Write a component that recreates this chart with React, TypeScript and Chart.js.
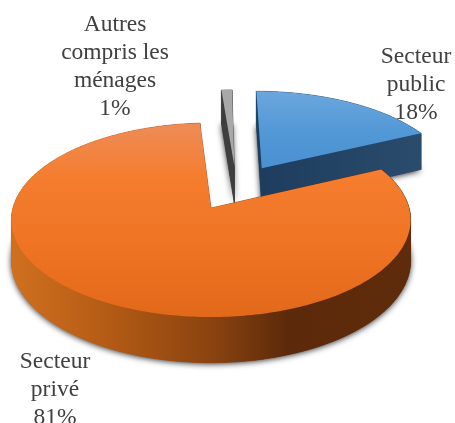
import React, { useEffect, useRef } from "react";
import { Chart, registerables } from "chart.js";

Chart.register(...registerables);

const categories = ["Secteur public", "Secteur privé", "Autres compris les ménages"];
const shares = [18, 81, 1];
const labelLines = [
  ["Secteur", "public", "18%"],
  ["Secteur", "privé", "81%"],
  ["Autres", "compris les", "ménages", "1%"],
];
const labelAnchors = [
  { x: 416, y: 57 },
  { x: 55, y: 362 },
  { x: 115, y: 25 },
];
const sliceColors = ["#5198d6", "#f47b2a", "#a8a8a8"];
const explode = [
  { x: 0.27, b: 0.44 },
  { x: 0, b: 0 },
  { x: 0.125, b: 0.46 },
];
const paintOrder = [2, 0, 1];

const CX = 211, CY = 208, RX = 198, RY = 95.5, PERSP = 0.124, DEPTH = 40;

function project(x: number, back: number, lift: number) {
  const s = 1 / (1 + PERSP * back);
  return { x: CX + RX * x * s, y: CY - RY * back * s + DEPTH * s * lift };
}

function outline(start: number, end: number, off: { x: number; b: number }, lift: number) {
  const pts = [project(off.x, off.b, lift)];
  const n = Math.max(4, Math.ceil((end - start) / (Math.PI / 180)));
  for (let i = 0; i <= n; i++) {
    const a = start + ((end - start) * i) / n + Math.PI / 2;
    pts.push(project(off.x + Math.sin(a), off.b + Math.cos(a), lift));
  }
  return pts;
}

function trace(ctx: CanvasRenderingContext2D, pts: { x: number; y: number }[]) {
  ctx.beginPath();
  pts.forEach((p, i) => (i ? ctx.lineTo(p.x, p.y) : ctx.moveTo(p.x, p.y)));
  ctx.closePath();
}

function topFill(ctx: CanvasRenderingContext2D, i: number) {
  if (i === 0) {
    const g = ctx.createLinearGradient(0, 92, 0, 175);
    g.addColorStop(0, "#6ba6dd");
    g.addColorStop(0.5, "#5198d6");
    g.addColorStop(1, "#4a8fd1");
    return g;
  }
  if (i === 1) {
    const g = ctx.createLinearGradient(0, 123, 0, 317);
    g.addColorStop(0, "#ee8c58");
    g.addColorStop(0.3, "#f47c2c");
    g.addColorStop(0.65, "#ee7424");
    g.addColorStop(1, "#e3691a");
    return g;
  }
  return sliceColors[2];
}

function wallFill(ctx: CanvasRenderingContext2D, i: number) {
  if (i === 0) {
    const g = ctx.createLinearGradient(258, 0, 417, 0);
    g.addColorStop(0, "#1e3d5e");
    g.addColorStop(1, "#2a4b6c");
    return g;
  }
  if (i === 1) {
    const g = ctx.createLinearGradient(12, 0, 411, 0);
    g.addColorStop(0, "#d0701f");
    g.addColorStop(0.25, "#b25a14");
    g.addColorStop(0.5, "#8a4310");
    g.addColorStop(0.69, "#5c2a0a");
    g.addColorStop(1, "#5e2c0b");
    return g;
  }
  return "#3e3e3e";
}

const pie3d = {
  id: "pie3d",
  beforeDatasetDraw(chart: any, args: any) {
    const ctx: CanvasRenderingContext2D = chart.ctx;
    const arcs = args.meta.data;
    ctx.save();
    for (const i of paintOrder) {
      const { startAngle, endAngle } = arcs[i];
      const top = outline(startAngle, endAngle, explode[i], 0);
      const bottom = outline(startAngle, endAngle, explode[i], 1);
      const wall = wallFill(ctx, i);

      ctx.save();
      ctx.shadowColor = "rgba(0,0,0,0.85)";
      ctx.shadowBlur = 6;
      ctx.shadowOffsetY = 1;
      ctx.fillStyle = wall;
      trace(ctx, bottom);
      ctx.fill();
      ctx.restore();

      ctx.fillStyle = wall;
      ctx.strokeStyle = wall;
      ctx.lineWidth = 0.6;
      for (let k = 0; k < top.length; k++) {
        const m = (k + 1) % top.length;
        trace(ctx, [top[k], top[m], bottom[m], bottom[k]]);
        ctx.fill();
        ctx.stroke();
      }

      ctx.fillStyle = topFill(ctx, i);
      trace(ctx, top);
      ctx.fill();
    }
    ctx.restore();
    return false;
  },
  afterDraw(chart: any) {
    const ctx: CanvasRenderingContext2D = chart.ctx;
    ctx.save();
    ctx.font = '23.5px "Liberation Serif"';
    ctx.fillStyle = "#404040";
    ctx.textAlign = "center";
    ctx.textBaseline = "middle";
    labelLines.forEach((lines, i) => {
      lines.forEach((t, l) => ctx.fillText(t, labelAnchors[i].x, labelAnchors[i].y + l * 28));
    });
    ctx.restore();
  },
};

export default function App() {
  const ref = useRef<HTMLCanvasElement>(null);
  useEffect(() => {
    const chart = new Chart(ref.current as HTMLCanvasElement, {
      type: "pie",
      data: {
        labels: categories,
        datasets: [{ data: shares, backgroundColor: sliceColors, borderWidth: 0 }],
      },
      options: {
        responsive: false,
        animation: false,
        rotation: 0,
        plugins: { legend: { display: false }, tooltip: { enabled: false } },
      },
      plugins: [pie3d],
    } as any);
    return () => chart.destroy();
  }, []);
  return (
    <div style={{ position: "absolute", left: 0, top: 0, width: 455, height: 423, background: "#fff", overflow: "hidden" }}>
      <canvas ref={ref} width={455} height={423} style={{ display: "block" }} />
    </div>
  );
}
